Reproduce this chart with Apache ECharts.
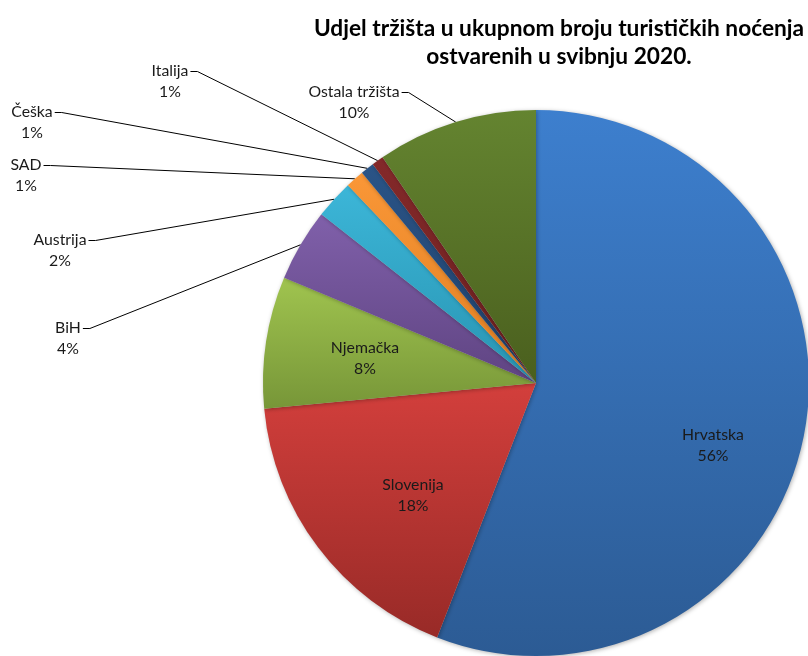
<!DOCTYPE html>
<html>
<head>
<meta charset="utf-8">
<script src="https://cdn.jsdelivr.net/npm/echarts@6/dist/echarts.min.js"></script>
<style>
  html, body { margin: 0; padding: 0; background: #fff; }
  #charts { width: 808px; height: 656px; }
</style>
</head>
<body>
<div id="charts"></div>
<script>
// tržišta, redom u smjeru kazaljke od vrha
const categories = ["Hrvatska", "Slovenija", "Njemačka", "BiH", "Austrija", "SAD", "Češka", "Italija", "Ostala tržišta"];
const shares = [55.9, 17.6, 7.8, 4.3, 2.3, 1.1, 0.8, 0.7, 9.5];

// gornja / donja boja gradijenta
const colors = [
  ["#3d7fce", "#2c5b94"],
  ["#d33f3c", "#982a27"],
  ["#a0c44f", "#779638"],
  ["#8060aa", "#5f4482"],
  ["#3cb6d8", "#2894b2"],
  ["#fa9737", "#e07f22"],
  ["#2a5487", "#1f3f68"],
  ["#84292a", "#6a1f1e"],
  ["#648430", "#4a5f1e"],
];
const insideCount = 3;
// središta natpisa
const labelPos = [
  [713, 445], [413, 495], [365, 358], [68, 338], [60, 250],
  [26, 175], [32, 122], [170, 81], [354, 102],
];

let chartDom = document.getElementById("charts");
let myChart = echarts.init(chartDom);
let option;

option = {
  animation: false,
  title: {
    text: "Udjel tržišta u ukupnom broju turističkih noćenja\nostvarenih u svibnju 2020.",
    left: 554,
    top: 10,
    textAlign: "center",
    textStyle: {
      fontFamily: "Lato",
      fontWeight: "bold",
      fontSize: 22.7,
      lineHeight: 28,
      color: "#000",
    },
  },
  series: [
    {
      type: "pie",
      center: [536, 383],
      radius: 273,
      startAngle: 90,
      clockwise: true,
      avoidLabelOverlap: false,
      itemStyle: {
        borderWidth: 0,
        shadowBlur: 4,
        shadowColor: "rgba(0,0,0,0.3)",
        shadowOffsetX: 1,
        shadowOffsetY: 1,
      },
      label: {
        show: true,
        fontFamily: "Lato",
        fontSize: 15.8,
        lineHeight: 21,
        color: "#1a1a1a",
        formatter: function (p) {
          return p.name + "\n" + Math.round(p.percent) + "%";
        },
      },
      labelLine: {
        show: true,
        length: 10,
        length2: 10,
        lineStyle: { color: "#000", width: 1 },
      },
      labelLayout: function (params) {
        let i = params.dataIndex;
        let pos = labelPos[i];
        let res = { x: pos[0], y: pos[1], align: "center", verticalAlign: "middle" };
        if (i >= insideCount && params.labelLinePoints) {
          let w = params.labelRect.width;
          let h = params.labelRect.height;
          let right = pos[0] + w / 2;
          let yName = pos[1] - h / 4 + 1;
          res.labelLinePoints = [
            params.labelLinePoints[0],
            [right + 9, yName],
            [right + 2, yName],
          ];
        }
        return res;
      },
      data: categories.map(function (name, i) {
        let inside = i < insideCount;
        return {
          name: name,
          value: shares[i],
          itemStyle: {
            color: {
              type: "linear",
              x: 0, y: 0, x2: 0, y2: 1,
              colorStops: [
                { offset: 0, color: colors[i][0] },
                { offset: 1, color: colors[i][1] },
              ],
            },
          },
          label: { position: inside ? "inside" : "outside" },
          labelLine: { show: !inside },
        };
      }),
    },
  ],
};

option && myChart.setOption(option);
</script>
</body>
</html>
